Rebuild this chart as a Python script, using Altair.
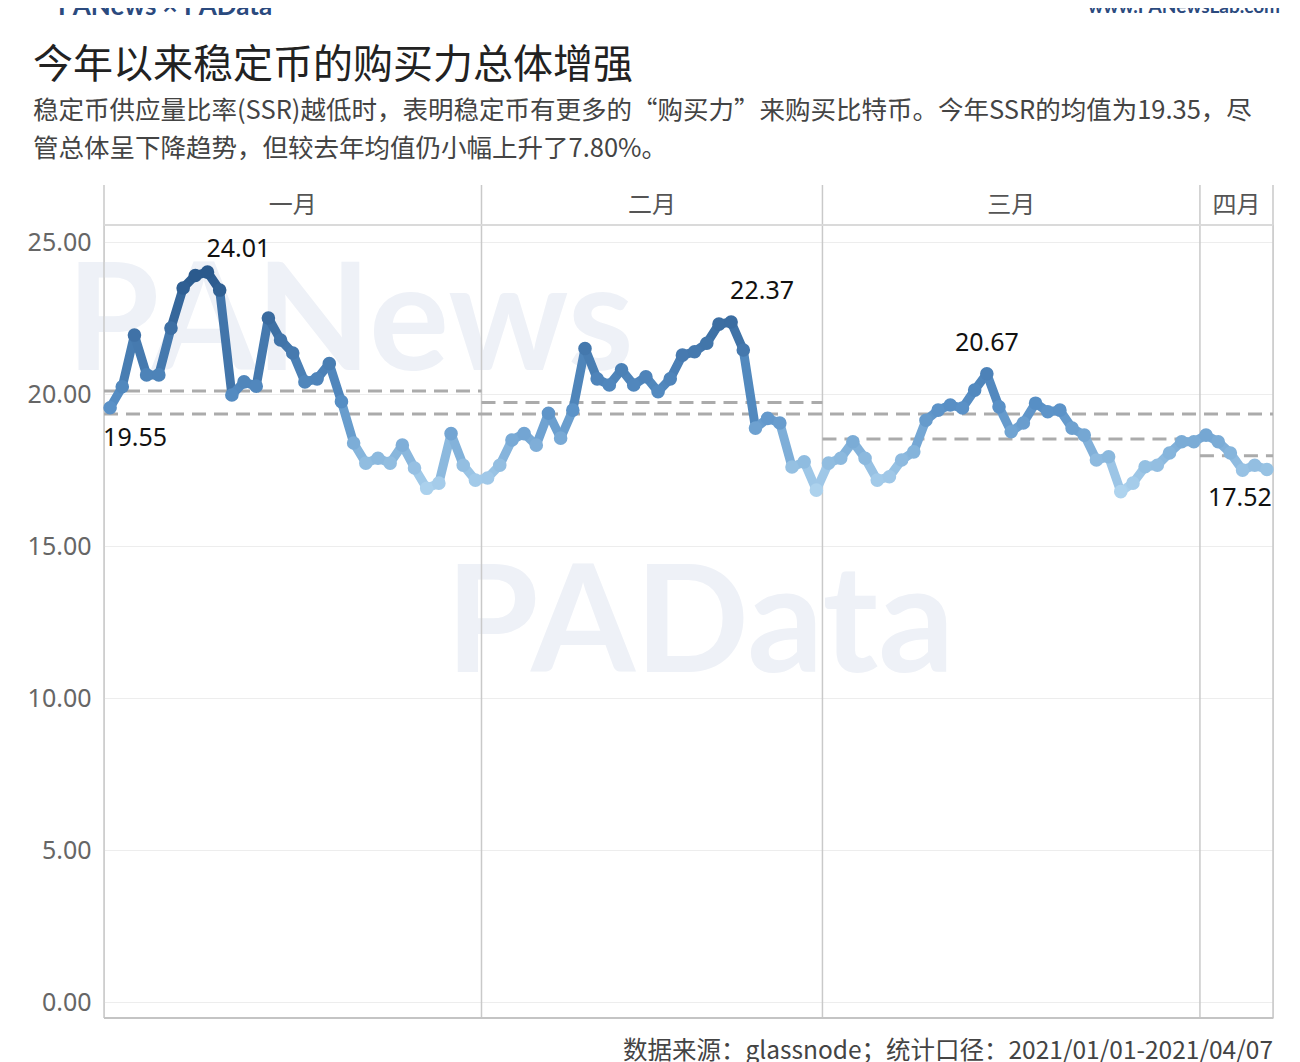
import altair as alt
import pandas as pd
import numpy as np

# ---- data (daily SSR, 2021) ----
months = ["一月", "二月", "三月", "四月"]
jan = [19.55, 20.24, 21.94, 20.63, 20.63, 22.17, 23.49, 23.90, 24.01, 23.42,
       19.97, 20.40, 20.26, 22.50, 21.78, 21.35, 20.40, 20.50, 21.00, 19.75,
       18.39, 17.73, 17.89, 17.73, 18.32, 17.57, 16.90, 17.07, 18.70, 17.66, 17.17]
feb = [17.24, 17.66, 18.49, 18.70, 18.32, 19.37, 18.55, 19.47, 21.50, 20.50,
       20.30, 20.80, 20.30, 20.57, 20.08, 20.50, 21.28, 21.39, 21.67, 22.30,
       22.37, 21.45, 18.88, 19.20, 19.05, 17.60, 17.77, 16.84]
mar = [17.73, 17.89, 18.43, 17.89, 17.17, 17.28, 17.83, 18.10, 19.14, 19.47,
       19.64, 19.54, 20.13, 20.67, 19.58, 18.76, 19.05, 19.70, 19.42, 19.47,
       18.88, 18.65, 17.83, 17.94, 16.79, 17.07, 17.61, 17.66, 18.06, 18.43, 18.43]
apr = [18.65, 18.43, 18.06, 17.50, 17.66, 17.52]
y_ticks = [0, 5, 10, 15, 20, 25]

title = "今年以来稳定币的购买力总体增强"
subtitle = ["稳定币供应量比率(SSR)越低时，表明稳定币有更多的\u201c购买力\u201d来购买比特币。今年SSR的均值为19.35，尽",
            "管总体呈下降趋势，但较去年均值仍小幅上升了7.80%。"]
footer = "数据来源：glassnode；统计口径：2021/01/01-2021/04/07"

# ---- tables built from the arrays ----
series = [jan, feb, mar, apr]
rows = []
d = 0
bounds = []
for m, vals in zip(months, series):
    start = d + 1
    for v in vals:
        d += 1
        rows.append({"day": d, "value": v, "month": m})
    bounds.append({"month": m, "x0": start - 0.5, "x1": d + 0.5,
                   "mid": (start + d) / 2, "mean": float(np.mean(vals))})
df = pd.DataFrame(rows)
bdf = pd.DataFrame(bounds)
ndays = d
overall = float(np.mean(df["value"]))

seg = pd.DataFrame({
    "day": df["day"].values[:-1], "day2": df["day"].values[1:],
    "value": df["value"].values[:-1], "value2": df["value"].values[1:],
})
seg["c"] = (seg["value"] + seg["value2"]) / 2
df["c"] = df["value"]

edges = pd.DataFrame({"x": [0.5] + list(bdf["x1"])})

W, H = 1169, 793
xs = alt.Scale(domain=[0.5, ndays + 0.5], nice=False, zero=False)
ys = alt.Scale(domain=[-0.52, 25.56], nice=False, zero=False)
cs = alt.Scale(domain=[16.8, 19.6, 24.0], range=["#aed3ee", "#5890c6", "#2a598c"])
FONT = "Noto Sans"
CJK = "Noto Sans CJK SC"

base = alt.Chart(df)

grid_axis = alt.Axis(values=y_ticks, format=".2f", labelFontSize=25, labelColor="#666666",
                     labelFont=FONT, labelPadding=13, ticks=False, domain=False,
                     grid=True, gridColor="#ededed", gridWidth=1, title=None)

# vertical panel separators (plot + header)
vlines = alt.Chart(edges).mark_rule(color="#c9c9c9", strokeWidth=1.5).encode(
    x=alt.X("x:Q", scale=xs, axis=None), y=alt.value(-40), y2=alt.value(H))
header_line = alt.Chart(edges).mark_rule(color="#d9d9d9", strokeWidth=1).encode(
    x=alt.value(0), x2=alt.value(W), y=alt.value(0))
bottom_line = alt.Chart(edges).mark_rule(color="#c4c4c4", strokeWidth=2).encode(
    x=alt.value(0), x2=alt.value(W), y=alt.value(H))

# faint watermarks
wm = pd.DataFrame({"t": ["PANews", "PAData"]})
watermark1 = alt.Chart(wm.iloc[[0]]).mark_text(fontSize=150, font="Lato", fontWeight="bold",
                                               color="#eef1f7", align="center", baseline="middle").encode(
    text="t:N", x=alt.value(246), y=alt.value(100))
watermark2 = alt.Chart(wm.iloc[[1]]).mark_text(fontSize=150, font="Lato", fontWeight="bold",
                                               color="#eef1f7", align="center", baseline="middle").encode(
    text="t:N", x=alt.value(596), y=alt.value(402))

yaxis_layer = base.mark_point(opacity=0).encode(
    x=alt.X("day:Q", scale=xs, axis=None),
    y=alt.Y("value:Q", scale=ys, axis=grid_axis))

month_means = alt.Chart(bdf).mark_rule(color="#ababab", strokeWidth=3, strokeDash=[14, 8]).encode(
    x=alt.X("x0:Q", scale=xs, axis=None), x2="x1:Q", y=alt.Y("mean:Q", scale=ys))
overall_df = pd.DataFrame({"x0": [0.5], "x1": [ndays + 0.5], "mean": [overall]})
overall_line = alt.Chart(overall_df).mark_rule(color="#ababab", strokeWidth=3, strokeDash=[14, 8]).encode(
    x=alt.X("x0:Q", scale=xs, axis=None), x2="x1:Q", y=alt.Y("mean:Q", scale=ys))

segments = alt.Chart(seg).mark_rule(strokeWidth=9, strokeCap="round").encode(
    x=alt.X("day:Q", scale=xs, axis=None), x2="day2:Q",
    y=alt.Y("value:Q", scale=ys), y2="value2:Q",
    color=alt.Color("c:Q", scale=cs, legend=None))
points = base.mark_circle(size=185, opacity=1).encode(
    x=alt.X("day:Q", scale=xs, axis=None), y=alt.Y("value:Q", scale=ys),
    color=alt.Color("c:Q", scale=cs, legend=None))

# labels
maxes = [df[df.month == m].sort_values("value").iloc[-1] for m in months[:3]]
lab_jan = pd.DataFrame([maxes[0]])
lab_feb = pd.DataFrame([maxes[1]])
lab_mar = pd.DataFrame([maxes[2]])
lab_first = df.iloc[[0]]
lab_last = df.iloc[[len(df) - 1]]


def labels(data, align, dx, dy):
    return alt.Chart(data).mark_text(fontSize=25, font=FONT, color="#111111", align=align,
                                     baseline="middle", dx=dx, dy=dy).encode(
        x=alt.X("day:Q", scale=xs, axis=None), y=alt.Y("value:Q", scale=ys),
        text=alt.Text("value:Q", format=".2f"))


l1 = labels(lab_jan, "left", -1, -23)
l1b = labels(lab_feb, "left", -1, -31)
l2 = labels(lab_mar, "center", 0, -31)
l3 = labels(lab_first, "left", -7, 30)
l4 = labels(lab_last, "right", 5, 29)

headers = alt.Chart(bdf).mark_text(fontSize=24, font=CJK, color="#555555", baseline="middle").encode(
    x=alt.X("mid:Q", scale=xs, axis=None), y=alt.value(-19), text="month:N")

# title / subtitle / footer as text
tdf = pd.DataFrame({"t": [title]})
title_mark = alt.Chart(tdf).mark_text(fontSize=40, font=CJK, color="#222222", align="left",
                                      baseline="alphabetic").encode(
    text="t:N", x=alt.value(33 - 104), y=alt.value(78 - 225))
sdf1 = pd.DataFrame({"t": [subtitle[0]]})
sdf2 = pd.DataFrame({"t": [subtitle[1]]})
sub1 = alt.Chart(sdf1).mark_text(fontSize=25.5, font=CJK, color="#444444", align="left",
                                 baseline="alphabetic").encode(
    text="t:N", x=alt.value(33 - 104), y=alt.value(119 - 225))
sub2 = alt.Chart(sdf2).mark_text(fontSize=25.5, font=CJK, color="#444444", align="left",
                                 baseline="alphabetic").encode(
    text="t:N", x=alt.value(33 - 104), y=alt.value(157 - 225))

foot_df = pd.DataFrame({"t": [footer]})
foot = alt.Chart(foot_df).mark_text(fontSize=24.5, font=CJK, color="#444444", align="right",
                                    baseline="alphabetic").encode(
    text="t:N", x=alt.value(W), y=alt.value(1059 - 225))

top_df = pd.DataFrame({"t": ["www.PANewsLab.com"]})
top_site = alt.Chart(top_df).mark_text(fontSize=19, font="Lato", fontWeight="bold", color="#2b4a7e",
                                       align="right", baseline="alphabetic").encode(
    text="t:N", x=alt.value(1280 - 104), y=alt.value(13 - 225))
top_logo_df = pd.DataFrame({"t": ["PANews × PAData"]})
top_logo = alt.Chart(top_logo_df).mark_text(fontSize=26, font="Lato", fontWeight="bold", color="#2b4a7e",
                                            align="left", baseline="alphabetic").encode(
    text="t:N", x=alt.value(58 - 104), y=alt.value(15 - 225))

chart = alt.layer(
    watermark1, watermark2, yaxis_layer, vlines, header_line, bottom_line,
    overall_line, month_means, segments, points, l1, l1b, l2, l3, l4, headers,
    title_mark, sub1, sub2, foot, top_site, top_logo
).properties(
    width=W, height=H,
    autosize=alt.AutoSizeParams(type="none"),
    padding={"left": 96, "top": 217, "right": 19, "bottom": 46},
).configure_view(stroke=None).configure(background="white")

chart.save("out.html", embed_options={"renderer": "svg", "actions": False})
